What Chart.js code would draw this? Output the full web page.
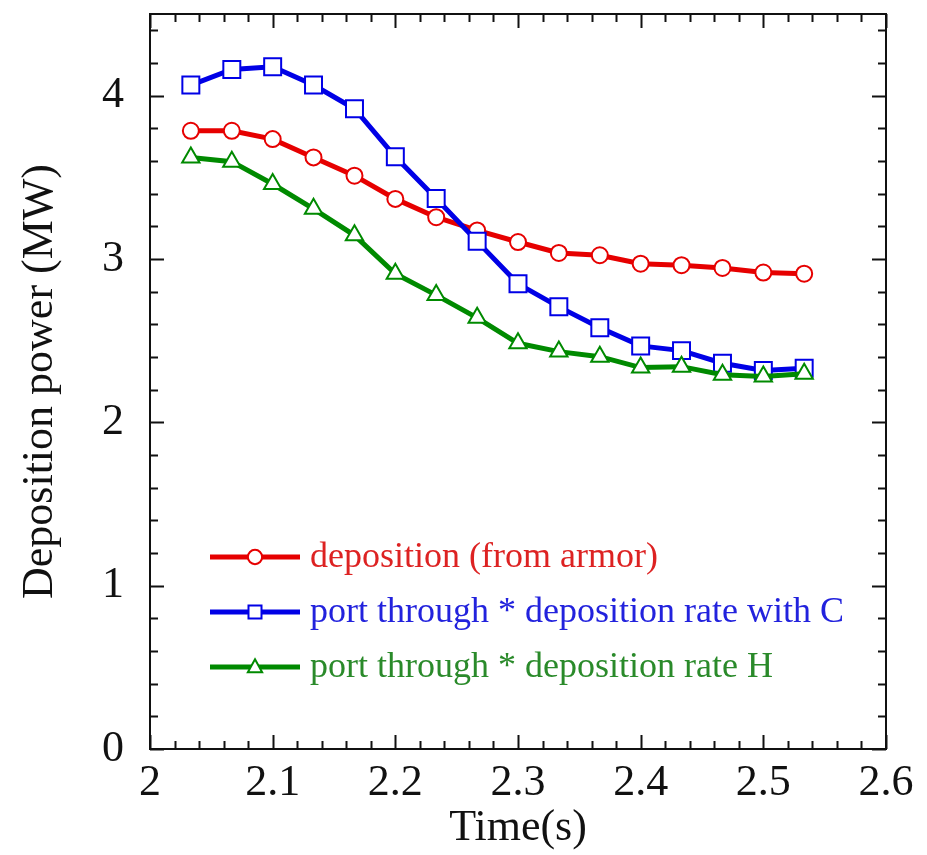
<!DOCTYPE html>
<html>
<head>
<meta charset="utf-8">
<script src="https://cdn.jsdelivr.net/npm/chart.js@4.4.1/dist/chart.umd.min.js"></script>
<style>
body { margin: 0; background: #fff; }
</style>
</head>
<body>
<canvas id="depositionChart" width="927" height="855"></canvas>
<script>

// data
var timeValues = [2.0333, 2.0667, 2.1, 2.1333, 2.1667, 2.2, 2.2333, 2.2667,
                  2.3, 2.3333, 2.3667, 2.4, 2.4333, 2.4667, 2.5, 2.5333];
var depositionArmor = [3.785, 3.785, 3.734, 3.622, 3.51, 3.368, 3.256, 3.175,
                       3.104, 3.037, 3.023, 2.971, 2.962, 2.945, 2.917, 2.91];
var portRateC = [4.065, 4.16, 4.177, 4.065, 3.92, 3.626, 3.37, 3.108,
                 2.848, 2.707, 2.579, 2.468, 2.439, 2.362, 2.317, 2.331];
var portRateH = [3.622, 3.596, 3.459, 3.307, 3.145, 2.91, 2.779, 2.64,
                 2.484, 2.433, 2.402, 2.335, 2.341, 2.291, 2.28, 2.297];
var seriesLabels = ['deposition (from armor)',
                    'port through * deposition rate with C',
                    'port through * deposition rate H'];
var xTickLabels = ['2', '2.1', '2.2', '2.3', '2.4', '2.5', '2.6'];
var yTickLabels = ['0', '1', '2', '3', '4'];

var serif = "'Liberation Serif', 'Times New Roman', serif";

function toPoints(values) {
  var pts = [];
  for (var i = 0; i < values.length; i++) {
    pts.push({ x: timeValues[i], y: values[i] });
  }
  return pts;
}

var lineColors = ['#e60000', '#0000e6', '#008a00'];
var textColors = ['#dd2222', '#2222dd', '#2a8a2a'];
var markerStyles = ['circle', 'rect', 'triangle'];

// frame + inward ticks on all four sides
var frameTicks = {
  id: 'frameTicks',
  afterDatasetsDraw: function(chart) {
    var c = chart.ctx;
    var a = chart.chartArea;
    var xs = chart.scales.x, ys = chart.scales.y;
    c.save();
    c.strokeStyle = '#111';
    c.lineWidth = 2;
    c.strokeRect(a.left, a.top, a.right - a.left, a.bottom - a.top);
    c.beginPath();
    for (var i = 0; i <= 30; i++) {
      var px = Math.round(xs.getPixelForValue(2 + i * 0.02)) + 0.5;
      var len = (i % 5 == 0) ? 14 : 8;
      c.moveTo(px, a.bottom); c.lineTo(px, a.bottom - len);
      c.moveTo(px, a.top); c.lineTo(px, a.top + len);
    }
    for (var j = 0; j <= 22; j++) {
      var py = Math.round(ys.getPixelForValue(j * 0.2)) + 0.5;
      var len2 = (j % 5 == 0) ? 14 : 8;
      c.moveTo(a.left, py); c.lineTo(a.left + len2, py);
      c.moveTo(a.right, py); c.lineTo(a.right - len2, py);
    }
    c.stroke();
    c.restore();
  }
};

function drawMarker(c, style, x, y, size) {
  c.beginPath();
  if (style == 'circle') {
    c.arc(x, y, size * 0.55, 0, Math.PI * 2);
  } else if (style == 'rect') {
    c.rect(x - size / 2, y - size / 2, size, size);
  } else {
    c.moveTo(x, y - size * 0.6);
    c.lineTo(x + size * 0.55, y + size * 0.4);
    c.lineTo(x - size * 0.55, y + size * 0.4);
    c.closePath();
  }
  c.fill();
  c.stroke();
}

// legend sits inside the plot, lower left
var insideLegend = {
  id: 'insideLegend',
  afterDraw: function(chart) {
    var c = chart.ctx;
    var a = chart.chartArea;
    c.save();
    c.font = '36px ' + serif;
    c.textBaseline = 'middle';
    for (var i = 0; i < seriesLabels.length; i++) {
      var y = a.bottom - 192 + i * 55;
      var x0 = a.left + 60, x1 = a.left + 150;
      c.strokeStyle = lineColors[i];
      c.lineWidth = 5;
      c.beginPath(); c.moveTo(x0, y); c.lineTo(x1, y); c.stroke();
      c.lineWidth = 2;
      c.fillStyle = '#fff';
      drawMarker(c, markerStyles[i], (x0 + x1) / 2, y, 13);
      c.fillStyle = textColors[i];
      c.fillText(seriesLabels[i], x1 + 10, y + 1);
    }
    c.restore();
  }
};

var datasets = [];
var allSeries = [depositionArmor, portRateC, portRateH];
var radii = [8, 12, 10];
for (var k = 0; k < allSeries.length; k++) {
  datasets.push({
    label: seriesLabels[k],
    data: toPoints(allSeries[k]),
    borderColor: lineColors[k],
    borderWidth: 5,
    pointStyle: markerStyles[k],
    pointRadius: radii[k],
    pointBorderWidth: 2,
    pointBackgroundColor: '#fff',
    pointBorderColor: lineColors[k],
    tension: 0,
    order: 3 - k
  });
}

var ctx = document.getElementById('depositionChart').getContext('2d');
var depositionChart = new Chart(ctx, {
  type: 'line',
  data: { datasets: datasets },
  options: {
    responsive: false,
    animation: false,
    layout: { padding: { top: 6, right: 41, left: 0, bottom: 0 } },
    plugins: { legend: { display: false }, tooltip: { enabled: false } },
    scales: {
      x: {
        type: 'linear',
        min: 2, max: 2.6,
        grid: { display: false },
        border: { display: false },
        ticks: {
          stepSize: 0.1,
          color: '#111',
          padding: 0,
          font: { family: serif, size: 44 },
          callback: function(v) { return xTickLabels[Math.round((v - 2) * 10)]; }
        },
        title: { display: true, text: 'Time(s)', color: '#111',
                 font: { family: serif, size: 44 }, padding: { top: 0, bottom: 0 } },
        afterFit: function(s) { s.height = 106; s.paddingLeft = 0; s.paddingRight = 0; }
      },
      y: {
        min: 0, max: 4.5,
        grid: { display: false },
        border: { display: false },
        afterBuildTicks: function(s) {
          s.ticks = s.ticks.filter(function(t) { return Number.isInteger(t.value); });
        },
        ticks: {
          stepSize: 1,
          color: '#111',
          padding: 18,
          font: { family: serif, size: 44 },
          callback: function(v) { return yTickLabels[v]; }
        },
        title: { display: true, text: 'Deposition power (MW)', color: '#111',
                 font: { family: serif, size: 44 }, padding: { top: 14, bottom: 0 } },
        afterFit: function(s) { s.width = 150; s.paddingTop = 0; s.paddingBottom = 0; }
      }
    }
  },
  plugins: [frameTicks, insideLegend]
});

</script>
</body>
</html>
